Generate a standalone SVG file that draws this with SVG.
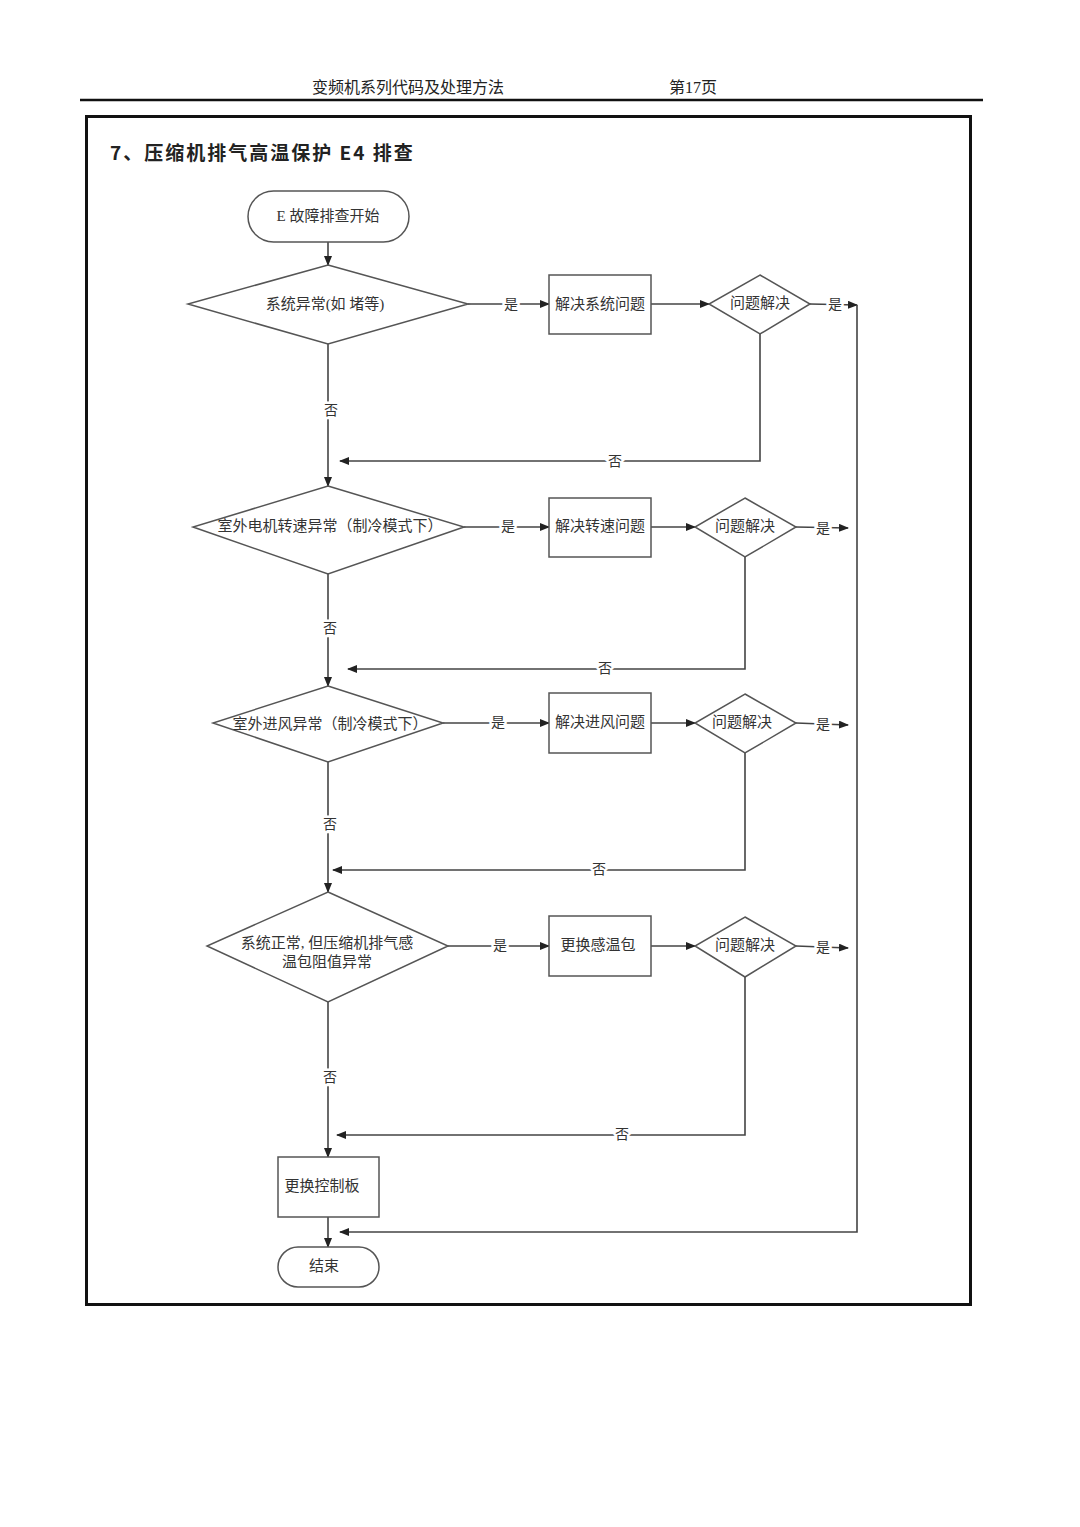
<svg xmlns="http://www.w3.org/2000/svg" width="1080" height="1527" viewBox="0 0 1080 1527">
<style>
.t{font-family:"Liberation Serif","Noto Sans CJK SC",serif;fill:#333;font-size:15px;text-anchor:middle;dominant-baseline:central}
.node{fill:#fff;stroke:#555;stroke-width:1.5}
.c{fill:none;stroke:#444;stroke-width:1.6}
.lab{font-family:"Liberation Serif","Noto Sans CJK SC",serif;fill:#333;font-size:14px;text-anchor:middle;dominant-baseline:central;stroke:#fff;stroke-width:5;paint-order:stroke}
</style>
<defs>
<marker id="ah" markerWidth="10" markerHeight="8" refX="9" refY="4" orient="auto" markerUnits="userSpaceOnUse">
<path d="M0,0 L10,4 L0,8 Z" fill="#222"/>
</marker>
</defs>
<rect width="1080" height="1527" fill="#fff"/>
<g id="header">
<text x="408" y="87" class="t" style="font-size:16px;fill:#222">变频机系列代码及处理方法</text>
<text x="693" y="87" class="t" style="font-size:16px;fill:#222">第17页</text>
<line x1="80" y1="100" x2="983" y2="100" stroke="#111" stroke-width="2.5"/>
</g>
<rect id="frame" x="86.5" y="116.5" width="884" height="1188" fill="none" stroke="#111" stroke-width="3"/>
<text id="title" x="110" y="151" style="font-family:'Noto Sans CJK SC','Liberation Sans',sans-serif;font-size:19px;font-weight:bold;fill:#222;letter-spacing:2px" dominant-baseline="central">7、压缩机排气高温保护 E4 排查</text>

<g id="connectors">
<line class="c" x1="328" y1="242" x2="328" y2="265" marker-end="url(#ah)"/>
<line class="c" x1="468" y1="304" x2="549" y2="304" marker-end="url(#ah)"/>
<line class="c" x1="651" y1="304" x2="709" y2="304" marker-end="url(#ah)"/>
<polyline class="c" points="810,304 857,305" marker-end="url(#ah)"/>
<polyline class="c" points="760,334 760,461 340,461" marker-end="url(#ah)"/>
<line class="c" x1="328" y1="344" x2="328" y2="486" marker-end="url(#ah)"/>

<line class="c" x1="464" y1="527" x2="549" y2="527" marker-end="url(#ah)"/>
<line class="c" x1="651" y1="527" x2="695" y2="527" marker-end="url(#ah)"/>
<line class="c" x1="796" y1="527" x2="848" y2="528" marker-end="url(#ah)"/>
<polyline class="c" points="745,557 745,669 348,669" marker-end="url(#ah)"/>
<line class="c" x1="328" y1="574" x2="328" y2="686" marker-end="url(#ah)"/>

<line class="c" x1="443" y1="723" x2="549" y2="723" marker-end="url(#ah)"/>
<line class="c" x1="651" y1="723" x2="695" y2="723" marker-end="url(#ah)"/>
<line class="c" x1="796" y1="723" x2="848" y2="725" marker-end="url(#ah)"/>
<polyline class="c" points="745,753 745,870 333,870" marker-end="url(#ah)"/>
<line class="c" x1="328" y1="762" x2="328" y2="892" marker-end="url(#ah)"/>

<line class="c" x1="448" y1="946" x2="549" y2="946" marker-end="url(#ah)"/>
<line class="c" x1="651" y1="946" x2="695" y2="946" marker-end="url(#ah)"/>
<line class="c" x1="796" y1="946" x2="848" y2="948" marker-end="url(#ah)"/>
<polyline class="c" points="745,977 745,1135 337,1135" marker-end="url(#ah)"/>
<line class="c" x1="328" y1="1002" x2="328" y2="1157" marker-end="url(#ah)"/>

<line class="c" x1="328" y1="1217" x2="328" y2="1247" marker-end="url(#ah)"/>
<polyline class="c" points="857,305 857,1232 340,1232" marker-end="url(#ah)"/>

<text class="lab" x="511" y="304">是</text>
<text class="lab" x="835" y="304">是</text>
<text class="lab" x="331" y="410">否</text>
<text class="lab" x="615" y="461">否</text>
<text class="lab" x="508" y="526">是</text>
<text class="lab" x="823" y="528">是</text>
<text class="lab" x="330" y="628">否</text>
<text class="lab" x="605" y="668">否</text>
<text class="lab" x="498" y="722">是</text>
<text class="lab" x="823" y="724">是</text>
<text class="lab" x="330" y="824">否</text>
<text class="lab" x="599" y="869">否</text>
<text class="lab" x="500" y="945">是</text>
<text class="lab" x="823" y="947">是</text>
<text class="lab" x="330" y="1077">否</text>
<text class="lab" x="622" y="1134">否</text>
</g>

<g id="start">
<rect class="node" x="248" y="191" width="161" height="51" rx="25.5"/>
<text class="t" x="328" y="216">E 故障排查开始</text>
</g>
<g id="d1">
<polygon class="node" points="328,265 468,304 328,344 188,304"/>
<text class="t" x="325" y="304">系统异常(如 堵等)</text>
</g>
<g id="b1">
<rect class="node" x="549" y="275" width="102" height="59"/>
<text class="t" x="600" y="304">解决系统问题</text>
</g>
<g id="s1">
<polygon class="node" points="760,275 810,304 760,334 709,304"/>
<text class="t" x="760" y="303">问题解决</text>
</g>

<g id="d2">
<polygon class="node" points="328,486 464,527 328,574 193,527"/>
<text class="t" x="330" y="526">室外电机转速异常（制冷模式下）</text>
</g>
<g id="b2">
<rect class="node" x="549" y="498" width="102" height="59"/>
<text class="t" x="600" y="526">解决转速问题</text>
</g>
<g id="s2">
<polygon class="node" points="745,498 796,527 745,557 695,527"/>
<text class="t" x="745" y="526">问题解决</text>
</g>

<g id="d3">
<polygon class="node" points="328,686 443,723 328,762 213,723"/>
<text class="t" x="330" y="724">室外进风异常（制冷模式下）</text>
</g>
<g id="b3">
<rect class="node" x="549" y="693" width="102" height="60"/>
<text class="t" x="600" y="722">解决进风问题</text>
</g>
<g id="s3">
<polygon class="node" points="745,694 796,723 745,753 695,723"/>
<text class="t" x="742" y="722">问题解决</text>
</g>

<g id="d4">
<polygon class="node" points="328,892 448,946 328,1002 207,946"/>
<text class="t" x="327" y="943">系统正常, 但压缩机排气感</text>
<text class="t" x="327" y="962">温包阻值异常</text>
</g>
<g id="b4">
<rect class="node" x="549" y="916" width="102" height="60"/>
<text class="t" x="598" y="945">更换感温包</text>
</g>
<g id="s4">
<polygon class="node" points="745,917 796,946 745,977 695,946"/>
<text class="t" x="745" y="945">问题解决</text>
</g>

<g id="b5">
<rect class="node" x="278" y="1157" width="101" height="60"/>
<text class="t" x="322" y="1186">更换控制板</text>
</g>
<g id="end">
<rect class="node" x="278" y="1247" width="101" height="40" rx="20"/>
<text class="t" x="324" y="1266">结束</text>
</g>
</svg>
